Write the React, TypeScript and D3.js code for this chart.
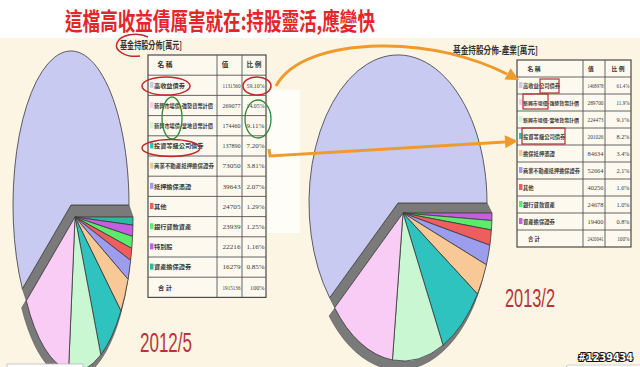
import React from "react";
import * as d3 from "d3";

const title = "這檔高收益債厲害就在:持股靈活,應變快";
const caption2012 = "基金持股分佈[萬元]";
const caption2013 = "基金持股分佈-產業[萬元]";
const headers = ["名 稱", "值", "比 例"];
const totalLabel = "合 計";

const names2012 = ["高收益債券", "新興市場債-強勢貨幣計價", "新興市場債-當地貨幣計價", "投資等級公司債券", "商業不動產抵押擔保證券", "抵押擔保憑證", "其他", "銀行貸款資產", "特別股", "資產擔保證券"];
const values2012 = [1131560, 269077, 174460, 137890, 73050, 39643, 24705, 23939, 22216, 16279];
const pct2012 = ["59.10%", "14.05%", "9.11%", "7.20%", "3.81%", "2.07%", "1.29%", "1.25%", "1.16%", "0.85%"];
const colors2012 = ["#C9CAF2", "#F9CCF6", "#C9F7D2", "#2FC3BF", "#F8C996", "#9D9DEE", "#EE5E5E", "#5CEB6C", "#C360DF", "#2CBA9E"];
const total2012 = ["1915136", "100%"];

const names2013 = ["高收益公司債券", "新興市場債-強勢貨幣計價", "新興市場債-當地貨幣計價", "投資等級公司債券", "擔保抵押憑證", "商業不動產抵押擔保證券", "其他", "銀行貸款資產", "資產擔保證券"];
const values2013 = [1468978, 289700, 224473, 201026, 84634, 52664, 40256, 24678, 19400];
const pct2013 = ["61.4%", "11.9%", "9.1%", "8.2%", "3.4%", "2.1%", "1.6%", "1.0%", "0.8%"];
const colors2013 = ["#C9CAF2", "#F9CCF6", "#C9F7D2", "#2FC3BF", "#F8C996", "#9D9DEE", "#EE5E5E", "#5CEB6C", "#C360DF"];
const total2013 = ["2420041", "100%"];

const label2012 = "2012/5";
const label2013 = "2013/2";
const watermark = "#1239434";

const CJK = "'Noto Sans CJK TC', 'Noto Sans CJK SC', sans-serif";
const GRAY = "#7a7a7a";

type PieProps = {
  values: number[];
  colors: string[];
  S: [number, number];
  B: [number, number];
  rx: number;
  ry: number;
  rim: [number, number, number];
};

function EllipsePie({ values, colors, S, B, rx, ry, rim }: PieProps) {
  const idx = values.map((_, i) => i).reverse();
  const pie = d3
    .pie<number>()
    .sort(null)
    .value((i) => values[i])
    .startAngle(Math.PI / 2)
    .endAngle(Math.PI / 2 + 2 * Math.PI);
  const arcs = pie(idx);
  const arcGen = d3.arc<any>().innerRadius(0).outerRadius(1);
  const big = arcs[arcs.length - 1];
  const small = arcs.slice(0, -1);
  const smallUnion = arcGen({ startAngle: small[0].startAngle, endAngle: small[small.length - 1].endAngle });
  const pt = (c: [number, number], a: number) => [c[0] + rx * Math.sin(a), c[1] - ry * Math.cos(a)];
  const bA = big.startAngle;
  const bE = big.endAngle;
  const poly = [B, pt(B, bA), pt(S, bA), S, pt(S, bE), pt(B, bE)].map((p) => p.join(",")).join(" ");
  return (
    <g>
      <path
        d={smallUnion || ""}
        transform={`translate(${S[0] + rim[0]},${S[1] + rim[1]}) scale(${rx + rim[2]},${ry + rim[2]})`}
        fill={GRAY}
        stroke="#555"
        strokeWidth={0.6}
        vectorEffect="non-scaling-stroke"
      />
      <polygon points={poly} fill={GRAY} stroke="#555" strokeWidth={0.6} />
      {small.map((a, k) => (
        <path
          key={k}
          d={arcGen(a) || ""}
          transform={`translate(${S[0]},${S[1]}) scale(${rx},${ry})`}
          fill={colors[a.data]}
          stroke="#3a3a3a"
          strokeWidth={0.8}
          vectorEffect="non-scaling-stroke"
        />
      ))}
      <path
        d={arcGen(big) || ""}
        transform={`translate(${B[0]},${B[1]}) scale(${rx},${ry})`}
        fill={colors[big.data]}
        stroke="#3a3a3a"
        strokeWidth={0.8}
        vectorEffect="non-scaling-stroke"
      />
    </g>
  );
}

type TableProps = {
  x: number[];
  y: number;
  rowH: number;
  names: string[];
  values: number[];
  pcts: string[];
  colors: string[];
  total: string[];
  fs: number;
  valW: number;
  pctW: number;
};

function Table({ x, y, rowH, names, values, pcts, colors, total, fs, valW, pctW }: TableProps) {
  const nRows = names.length + 2;
  const h = nRows * rowH;
  const rows = d3.range(nRows + 1).map((i) => y + i * rowH);
  const cy = (i: number) => y + i * rowH + rowH / 2 + fs * 0.38;
  const count = (s: string) => Array.from(s).reduce((acc, c) => acc + (c === "-" ? 0.55 : 1), 0);
  const avail = x[1] - x[0] - 9;
  return (
    <g>
      <rect x={x[0]} y={y} width={x[3] - x[0]} height={h} fill="#FDF9EF" stroke="#4a4a4a" strokeWidth={1.2} />
      {rows.slice(1, -1).map((ry, i) => (
        <line key={i} x1={x[0]} x2={x[3]} y1={ry} y2={ry} stroke="#555" strokeWidth={0.9} />
      ))}
      {[x[1], x[2]].map((vx, i) => (
        <line key={i} x1={vx} x2={vx} y1={y} y2={y + h} stroke="#555" strokeWidth={0.9} />
      ))}
      <text x={x[0] + 17} y={cy(0)} fontFamily={CJK} fontSize={fs + 0.5} fontWeight={700} fill="#333" textAnchor="middle">
        {headers[0]}
      </text>
      <text x={x[1] + 8} y={cy(0)} fontFamily={CJK} fontSize={fs + 0.5} fontWeight={700} fill="#333" textAnchor="middle">
        {headers[1]}
      </text>
      <text x={(x[2] + x[3]) / 2} y={cy(0)} fontFamily={CJK} fontSize={fs + 0.5} fontWeight={700} fill="#333" textAnchor="middle">
        {headers[2]}
      </text>
      {names.map((n, i) => {
        const nfs = Math.min(fs, avail / count(n));
        return (
          <g key={i}>
            <rect x={x[0] + 2} y={y + (i + 1) * rowH + rowH / 2 - 3.5} width={3.5} height={6} fill={colors[i]} />
            <text x={x[0] + 6} y={cy(i + 1)} fontFamily={CJK} fontSize={nfs} fontWeight={700} fill="#3a3a3a">
              {n}
            </text>
            <text
              x={x[2] - 1.5}
              y={cy(i + 1)}
              fontFamily="'Liberation Serif', serif"
              fontSize={fs}
              fill="#3a3a3a"
              textAnchor="end"
              textLength={valW}
              lengthAdjust="spacingAndGlyphs"
            >
              {String(values[i])}
            </text>
            <text
              x={x[3] - 1.5}
              y={cy(i + 1)}
              fontFamily="'Liberation Serif', serif"
              fontSize={fs}
              fill="#3a3a3a"
              textAnchor="end"
              textLength={pctW}
              lengthAdjust="spacingAndGlyphs"
            >
              {pcts[i]}
            </text>
          </g>
        );
      })}
      <text x={x[0] + 17} y={cy(nRows - 1)} fontFamily={CJK} fontSize={fs} fontWeight={700} fill="#333" textAnchor="middle">
        {totalLabel}
      </text>
      <text
        x={x[2] - 1.5}
        y={cy(nRows - 1)}
        fontFamily="'Liberation Serif', serif"
        fontSize={fs}
        fill="#3a3a3a"
        textAnchor="end"
        textLength={valW}
        lengthAdjust="spacingAndGlyphs"
      >
        {total[0]}
      </text>
      <text x={x[3] - 1.5} y={cy(nRows - 1)} fontFamily="'Liberation Serif', serif" fontSize={fs} fill="#3a3a3a" textAnchor="end">
        {total[1]}
      </text>
    </g>
  );
}

function arrowHead(tip: [number, number], dir: [number, number], len: number, half: number) {
  const l = Math.hypot(dir[0], dir[1]);
  const d = [dir[0] / l, dir[1] / l];
  const b = [tip[0] - len * d[0], tip[1] - len * d[1]];
  const p = [-d[1], d[0]];
  return [tip, [b[0] + half * p[0], b[1] + half * p[1]], [b[0] - half * p[0], b[1] - half * p[1]]]
    .map((q) => q.join(","))
    .join(" ");
}

export default function App() {
  const ORANGE = "#EE9A2C";
  return (
    <svg
      width={640}
      height={367}
      viewBox="0 0 640 367"
      style={{ position: "absolute", left: 0, top: 0, display: "block" }}
    >
      <rect x={0} y={0} width={640} height={367} fill="#FFFFFF" />
      <rect x={0} y={38} width={640} height={329} fill="#FCF5E3" />
      <rect x={268} y={90} width={32} height={143} fill="#FFFFFF" opacity={0.75} />

      <text
        x={65}
        y={30}
        fontFamily={CJK}
        fontSize={24}
        fontWeight={700}
        fill="#E4262A"
        textLength={310}
        lengthAdjust="spacingAndGlyphs"
      >
        {title}
      </text>

      {/* left pie */}
      <EllipsePie values={values2012} colors={colors2012} S={[75, 217]} B={[71, 205]} rx={58} ry={154} rim={[-3, 6, 2]} />
      {/* right pie */}
      <EllipsePie values={values2013} colors={colors2013} S={[403, 213]} B={[398, 203]} rx={89} ry={148} rim={[-4, 7, 2]} />

      <text x={120} y={49} fontFamily={CJK} fontSize={10} fontWeight={700} fill="#333" textLength={62} lengthAdjust="spacingAndGlyphs">
        {caption2012}
      </text>
      <text x={453} y={54} fontFamily={CJK} fontSize={10} fontWeight={700} fill="#333" textLength={85} lengthAdjust="spacingAndGlyphs">
        {caption2013}
      </text>

      <Table
        x={[148, 217, 242, 266]}
        y={55}
        rowH={20.2}
        names={names2012}
        values={values2012}
        pcts={pct2012}
        colors={colors2012}
        total={total2012}
        fs={6.2}
        valW={18}
        pctW={18}
      />
      <Table
        x={[517, 583, 605, 631]}
        y={60}
        rowH={17}
        names={names2013}
        values={values2013}
        pcts={pct2013}
        colors={colors2013}
        total={total2013}
        fs={5.3}
        valW={16}
        pctW={13}
      />

      {/* annotations */}
      <path d="M148,37 A19,11 0 1,0 140,56" fill="none" stroke="#C0282A" strokeWidth={1.5} />
      <ellipse cx={166} cy={86} rx={24} ry={9} fill="none" stroke="#C0282A" strokeWidth={1.5} />
      <ellipse cx={257} cy={86} rx={14} ry={9} fill="none" stroke="#C0282A" strokeWidth={1.5} />
      <ellipse cx={171} cy={148} rx={29} ry={8.5} fill="none" stroke="#C0282A" strokeWidth={1.5} />
      <ellipse cx={172} cy={118} rx={10} ry={21} fill="none" stroke="#2E8B3A" strokeWidth={1.3} />
      <ellipse cx={258} cy={119} rx={13} ry={19} fill="none" stroke="#2E8B3A" strokeWidth={1.3} />
      <rect x={540} y={79} width={19} height={14} fill="none" stroke="#B03030" strokeWidth={1.2} />
      <rect x={523} y={94} width={25} height={15} fill="none" stroke="#B03030" strokeWidth={1.2} />
      <rect x={522} y={128} width={43} height={16} fill="none" stroke="#B03030" strokeWidth={1.2} />

      {/* arrows */}
      <path d="M276,86 C290,60 330,47 380,46 C430,45 475,58 507,74" fill="none" stroke={ORANGE} strokeWidth={3} />
      <polygon points={arrowHead([519, 80], [0.88, 0.47], 13, 6.5)} fill={ORANGE} />
      <path d="M269,149 L270,156 L505,142" fill="none" stroke={ORANGE} strokeWidth={3} />
      <polygon points={arrowHead([518, 141], [1, -0.06], 13, 6.5)} fill={ORANGE} />

      <text
        x={140}
        y={352}
        fontFamily="'Liberation Sans', sans-serif"
        fontSize={27}
        fill="#B8343A"
        textLength={52}
        lengthAdjust="spacingAndGlyphs"
      >
        {label2012}
      </text>
      <text
        x={505}
        y={307}
        fontFamily="'Liberation Sans', sans-serif"
        fontSize={26}
        fill="#B8343A"
        textLength={50}
        lengthAdjust="spacingAndGlyphs"
      >
        {label2013}
      </text>

      <rect x={7} y={364} width={76} height={6} fill="#FFFFFF" stroke="#BBBBBB" strokeWidth={0.8} />
      <rect x={566} y={365} width={80} height={8} rx={3} fill="#FFFFFF" stroke="#C8C8C8" strokeWidth={0.8} />
      <text
        x={578}
        y={361}
        fontFamily="'DejaVu Sans', sans-serif"
        fontSize={11}
        fontWeight={700}
        fill="#FFFFFF"
        stroke="#111"
        strokeWidth={2.2}
        paintOrder="stroke"
        textLength={55}
        lengthAdjust="spacingAndGlyphs"
      >
        {watermark}
      </text>
    </svg>
  );
}
